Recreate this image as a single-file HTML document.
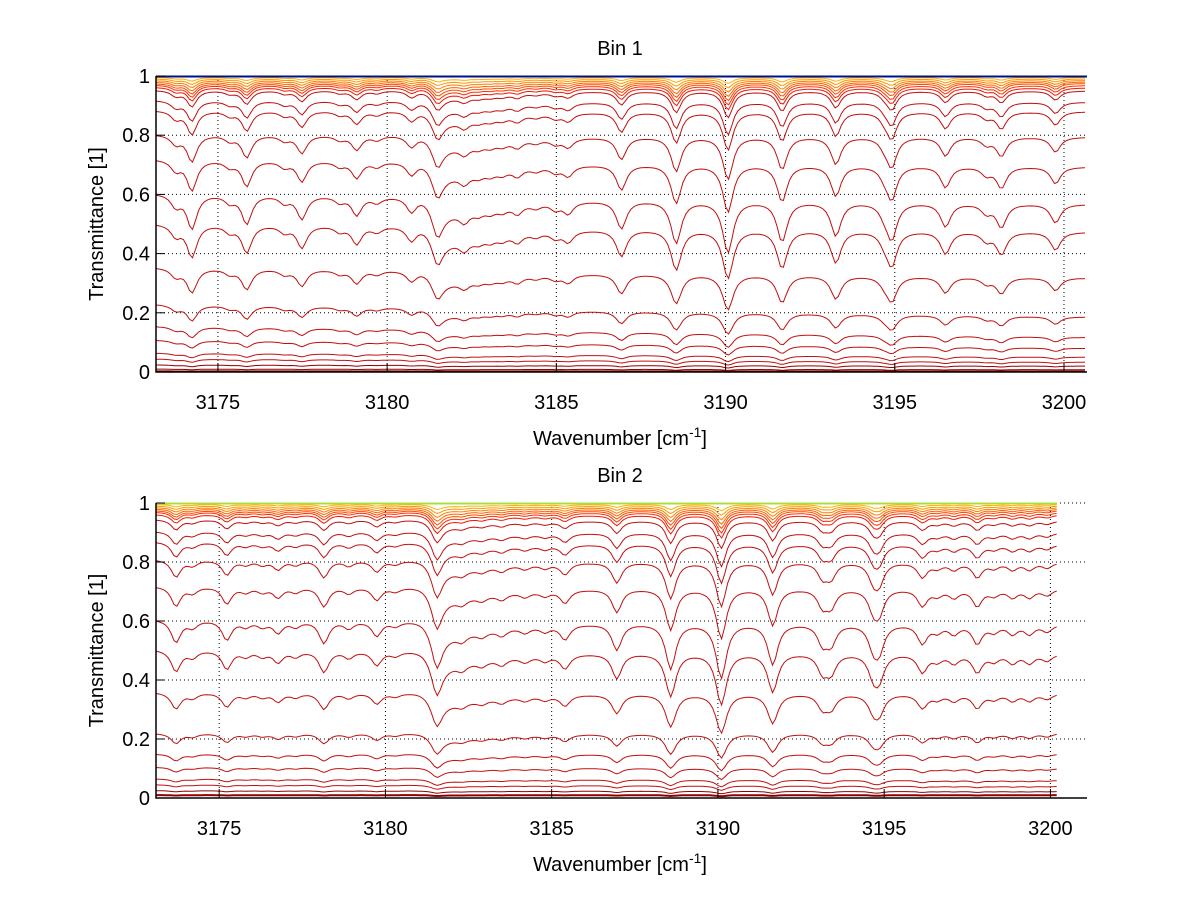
<!DOCTYPE html>
<html><head><meta charset="utf-8"><style>
body{margin:0;background:#fff;}
svg{display:block;font-family:"Liberation Sans",Arial,sans-serif;}
</style></head><body>
<svg id="chart" width="1200" height="901" viewBox="0 0 1200 901"></svg>
<script>
// ---- data: Bin 1 absorption lines ----
const topLineCenters = [3173.76,3174.23,3175.35,3175.85,3176.97,3177.48,3178.6,3179.1,3179.7,3180.72,3181.49,3182.28,3182.7,3183.05,3183.4,3183.85,3184.4,3184.97,3185.35,3186.92,3188.54,3190.07,3191.67,3193.26,3194.7,3194.91,3196.5,3197.71,3198.15,3199.75];
const topLineStrengths = [0.2,0.6,0.12,0.5,0.12,0.4,0.1,0.32,0.1,0.25,0.45,0.2,0.1,0.1,0.1,0.16,0.08,0.12,0.2,0.5,0.8,1.0,0.75,0.62,0.16,0.66,0.42,0.16,0.42,0.33];
const topBroad = [3181.35, 2.0, 0.38]; // start, decay, amplitude
// ---- data: Bin 2 absorption lines ----
const botLineCenters = [3173.7,3174.2,3175.23,3175.8,3176.3,3176.77,3177.3,3178.15,3178.9,3179.74,3180.3,3181.55,3182.3,3182.9,3183.5,3184.2,3184.8,3185.4,3186.96,3188.58,3190.1,3191.65,3193.15,3193.4,3194.68,3194.85,3196.15,3196.6,3197.1,3197.8,3198.3,3198.86,3199.37,3199.9];
const botLineStrengths = [0.38,0.12,0.33,0.1,0.1,0.2,0.1,0.38,0.12,0.25,0.08,0.6,0.12,0.1,0.12,0.1,0.1,0.25,0.46,0.85,1.05,0.75,0.33,0.33,0.38,0.42,0.33,0.12,0.16,0.33,0.12,0.16,0.16,0.12];
const botBroad = [3181.4, 2.0, 0.35];
// ---- data: curve levels (left continuum, right continuum, absorption scale) ----
const topBaseLeft  = [0.995,0.99,0.985,0.98,0.975,0.97,0.963,0.953,0.919,0.885,0.804,0.72,0.605,0.503,0.355,0.23,0.155,0.108,0.064,0.044,0.024,0.01,0.002];
const topBaseRight = [0.995,0.99,0.985,0.98,0.975,0.968,0.96,0.95,0.912,0.88,0.794,0.693,0.567,0.473,0.318,0.186,0.117,0.08,0.05,0.033,0.02,0.008,0.002];
const topScale     = [0.02,0.03,0.04,0.05,0.06,0.07,0.08,0.1,0.13,0.16,0.2,0.26,0.36,0.42,0.45,0.45,0.45,0.45,0.45,0.45,0.45,0.45,0.3];
const botBaseLeft  = [0.995,0.99,0.985,0.98,0.975,0.97,0.962,0.945,0.905,0.87,0.81,0.72,0.607,0.505,0.36,0.22,0.15,0.105,0.065,0.045,0.025,0.01];
const botBaseRight = [0.995,0.99,0.985,0.98,0.975,0.968,0.96,0.94,0.9,0.86,0.8,0.71,0.59,0.49,0.355,0.22,0.15,0.1,0.06,0.04,0.022,0.01];
const botScale     = [0.02,0.03,0.04,0.05,0.06,0.07,0.08,0.1,0.13,0.16,0.2,0.26,0.36,0.42,0.45,0.45,0.45,0.45,0.45,0.45,0.45,0.45];
const xTicks = [3175,3180,3185,3190,3195,3200];
const yTicks = [0,0.2,0.4,0.6,0.8,1];
const yTickLabels = ["0","0.2","0.4","0.6","0.8","1"];
const clusterColors = ["#ffb000","#ff9800","#ff8000","#ff6400","#ff4c00","#ff3000","#f01800"];

const NS = "http://www.w3.org/2000/svg";
const svg = document.getElementById("chart");
function mk(tag, attrs, parent){const e=document.createElementNS(NS,tag);for(const k in attrs)e.setAttribute(k,attrs[k]);(parent||svg).appendChild(e);return e;}

function tau(nu, centers, strengths, broad){
  let t=0;const w=0.17;
  for(let i=0;i<centers.length;i++){const d=(nu-centers[i])/w;t+=strengths[i]/(1+d*d);}
  const dx=nu-broad[0];
  const edge=1/(1+Math.exp(-dx/0.12));
  t+=broad[2]*edge*Math.exp(-Math.max(dx,0)/broad[1]);
  return t;
}

function panel(cfg){
  const {left,right,top,bottom,xmin,xmax,dataMax,centers,strengths,broad,bl,br,sc,topColor,name,title}=cfg;
  const g=mk("g",{});
  
  
  const X=v=>left+(v-xmin)/(xmax-xmin)*(right-left);
  const Y=v=>bottom-v*(bottom-top);
  xTicks.forEach(t=>{const l=mk("line",{x1:X(t),x2:X(t),y1:top,y2:bottom,stroke:"#000","stroke-width":1,"stroke-dasharray":"1,3"},g);
    
    });
  yTicks.forEach(t=>{if(t===0)return;const l=mk("line",{x1:left,x2:right,y1:Y(t),y2:Y(t),stroke:"#000","stroke-width":1,"stroke-dasharray":"1,3"},g);
    
    });
  const xs=[];for(let v=xmin;v<=dataMax+1e-9;v+=0.09)xs.push(v);
  const taus=xs.map(v=>tau(v,centers,strengths,broad));
  const n=bl.length;
  for(let k=n-1;k>=0;k--){
    let pts="";
    xs.forEach((v,i)=>{const f=(v-xmin)/(dataMax-xmin);const b=bl[k]+(br[k]-bl[k])*f;const T=b*Math.exp(-sc[k]*taus[i]);pts+=X(v).toFixed(1)+","+Y(T).toFixed(1)+" ";});
    const col=k<clusterColors.length?clusterColors[k]:(bl[k]<0.03?"#900000":"#c01010");
    const p=mk("polyline",{points:pts,fill:"none",stroke:col,"stroke-width":k===n-1?2:1},g);
    
    
  }
  const tl=mk("line",{x1:left,x2:X(dataMax),y1:Y(1)+0.5,y2:Y(1)+0.5,stroke:topColor,"stroke-width":2},g);
  
  
  const ax=mk("path",{d:`M${left},${top} L${left},${bottom} L${right},${bottom}`,fill:"none",stroke:"#000","stroke-width":1.5},g);
  
  
  xTicks.forEach(t=>{
    mk("line",{x1:X(t),x2:X(t),y1:bottom,y2:bottom-9,stroke:"#000"},g);
    const tx=mk("text",{x:X(t),y:bottom+37,"font-size":20,"text-anchor":"middle",fill:"#000"},g);
    tx.textContent=t;
    
    
  });
  yTicks.forEach((t,i)=>{
    mk("line",{x1:left,x2:left+9,y1:Y(t),y2:Y(t),stroke:"#000"},g);
    const tx=mk("text",{x:left-6,y:Y(t)+7,"font-size":20,"text-anchor":"end",fill:"#000"},g);
    tx.textContent=yTickLabels[i];
    
    
  });
  const tt=mk("text",{x:620,y:top-21,"font-size":20,"text-anchor":"middle",fill:"#000"},g);
  tt.textContent=title;
  
  
  const xl=mk("text",{x:620,y:bottom+73,"font-size":20,"text-anchor":"middle",fill:"#000"},g);
  xl.innerHTML='Wavenumber [cm<tspan dy="-8" font-size="14">-1</tspan><tspan dy="8">]</tspan>';
  
  
  const cy=(top+bottom)/2;
  const yl=mk("text",{x:103,y:cy,"font-size":20,"text-anchor":"middle",fill:"#000",transform:`rotate(-90 103 ${cy})`},g);
  yl.textContent="Transmittance [1]";
  
  
}
panel({left:156,right:1087,top:76,bottom:372,xmin:3173.17,xmax:3200.68,dataMax:3200.68,centers:topLineCenters,strengths:topLineStrengths,broad:topBroad,bl:topBaseLeft,br:topBaseRight,sc:topScale,topColor:"#00108a",name:"bin1-panel",title:"Bin 1"});
panel({left:156,right:1087,top:503,bottom:798,xmin:3173.1,xmax:3201.1,dataMax:3200.2,centers:botLineCenters,strengths:botLineStrengths,broad:botBroad,bl:botBaseLeft,br:botBaseRight,sc:botScale,topColor:"#a8e040",name:"bin2-panel",title:"Bin 2"});
</script>
</body></html>
